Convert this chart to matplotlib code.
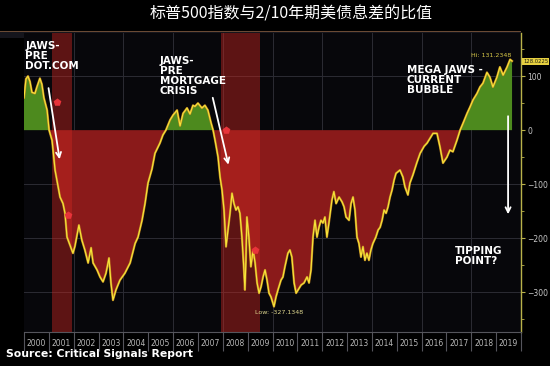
import numpy as np
import matplotlib.pyplot as plt
from matplotlib.patches import Rectangle
from matplotlib.ticker import MultipleLocator, FixedLocator, NullFormatter

# S&P 500 / 2-10yr spread ratio
years = [2000.00, 2000.08, 2000.16, 2000.24, 2000.32, 2000.44, 2000.52, 2000.64, 2000.72, 2000.80,
         2000.93, 2001.01, 2001.13, 2001.25, 2001.45, 2001.57, 2001.65, 2001.73, 2001.85, 2001.97,
         2002.05, 2002.21, 2002.33, 2002.45, 2002.58, 2002.70, 2002.78, 2002.94, 2003.06, 2003.18,
         2003.30, 2003.42, 2003.50, 2003.58, 2003.70, 2003.86, 2004.06, 2004.27, 2004.47, 2004.59,
         2004.75, 2004.87, 2004.99, 2005.15, 2005.27, 2005.47, 2005.59, 2005.71, 2005.88, 2006.00,
         2006.16, 2006.28, 2006.40, 2006.56, 2006.68, 2006.80, 2006.88, 2007.00, 2007.16, 2007.28,
         2007.40, 2007.53, 2007.61, 2007.69, 2007.81, 2007.89, 2007.97, 2008.05, 2008.13, 2008.21,
         2008.29, 2008.37, 2008.45, 2008.53, 2008.61, 2008.69, 2008.77, 2008.85, 2008.89, 2008.93,
         2008.97, 2009.05, 2009.13, 2009.22, 2009.30, 2009.38, 2009.46, 2009.54, 2009.62, 2009.70,
         2009.78, 2009.86, 2009.94, 2010.06, 2010.14, 2010.22, 2010.34, 2010.42, 2010.50, 2010.62,
         2010.70, 2010.78, 2010.87, 2010.95, 2011.03, 2011.15, 2011.27, 2011.39, 2011.47, 2011.55,
         2011.63, 2011.71, 2011.79, 2011.87, 2011.95, 2012.03, 2012.11, 2012.19, 2012.27, 2012.39,
         2012.47, 2012.56, 2012.68, 2012.80, 2012.88, 2012.96, 2013.08, 2013.16, 2013.24, 2013.32,
         2013.40, 2013.48, 2013.56, 2013.64, 2013.72, 2013.80, 2013.88, 2013.96, 2014.04, 2014.16,
         2014.25, 2014.33, 2014.41, 2014.49, 2014.57, 2014.65, 2014.73, 2014.81, 2014.89, 2014.97,
         2015.13, 2015.25, 2015.33, 2015.45, 2015.53, 2015.65, 2015.81, 2015.94, 2016.10, 2016.22,
         2016.46, 2016.62, 2016.74, 2016.86, 2017.02, 2017.14, 2017.26, 2017.42, 2017.55, 2017.67,
         2017.83, 2017.95, 2018.07, 2018.23, 2018.35, 2018.47, 2018.63, 2018.75, 2018.87, 2019.03,
         2019.15, 2019.28, 2019.44, 2019.56, 2019.64]
ratio = [60, 95, 100, 90, 70, 68, 80, 96, 85, 60,
         37, 0, -19, -74, -124, -136, -154, -198, -213, -228,
         -215, -176, -204, -222, -246, -218, -246, -259, -272, -281,
         -265, -237, -283, -315, -296, -278, -265, -246, -210, -198,
         -167, -136, -98, -72, -43, -24, -9, 0, 19, 28,
         37, 8, 31, 41, 30, 46, 44, 50, 41, 46,
         37, 13, 0, -19, -50, -87, -111, -148, -216, -185,
         -154, -117, -136, -148, -142, -154, -198, -259, -296, -241,
         -161, -198, -253, -222, -246, -283, -302, -290, -272, -259,
         -278, -302, -309, -327, -309, -296, -278, -272, -253, -228,
         -222, -235, -283, -302, -296, -287, -283, -272, -283, -259,
         -198, -167, -198, -180, -167, -172, -161, -198, -172, -130,
         -114, -136, -124, -133, -142, -161, -167, -136, -124, -148,
         -198, -210, -235, -216, -241, -228, -241, -222, -210, -198,
         -185, -180, -167, -148, -154, -142, -124, -111, -93, -80,
         -74, -87, -105, -120, -98, -83, -60, -43, -30, -24,
         -6, -6, -31, -61, -50, -37, -40, -19, 0, 13,
         31, 43, 56, 68, 80, 87, 107, 98, 80, 98,
         117, 102, 117, 131, 128]

recessions = [(2001.13, 2001.93), (2007.92, 2009.50)]
event_years = [2001.33, 2001.77, 2008.13, 2009.30]
event_values = [52, -157, 0, -222]
year_labels = [str(y) for y in range(2000, 2020)]
last_value = "128.0225"
hi_label = "Hi: 131.2348"
low_label = "Low: -327.1348"

x = np.array(years)
y = np.array(ratio)

fig = plt.figure(figsize=(5.5, 3.66), dpi=100, facecolor='black')
ax = fig.add_axes([24 / 550, 34 / 366, 497 / 550, 299 / 366])
ax.set_facecolor('#07070b')

# fills above / below zero
ax.fill_between(x, y, 0, where=y >= 0, interpolate=True, color='#4d8a1e', lw=0, zorder=2)
ax.fill_between(x, y, 0, where=y <= 0, interpolate=True, color='#8a1a1a', lw=0, zorder=2)

# recession shading
for a, b in recessions:
    ax.axvspan(a, b, color='#c8261f', alpha=0.45, lw=0, zorder=3)

# the line (orange halo + yellow core)
ax.plot(x, y, color='#c98a22', lw=1.6, alpha=0.9, zorder=4)
ax.plot(x, y, color='#f7e63a', lw=0.8, zorder=5)

# event markers
ax.scatter(event_years, event_values, marker='p', s=34, color='#e8343a', zorder=6, lw=0)

# gridlines
for g in range(2002, 2020, 2):
    ax.axvline(g, color='#2c2c34', lw=0.7, zorder=1)
for g in [100, -100, -200, -300]:
    ax.axhline(g, color='#2c2c34', lw=0.7, zorder=1)

ax.set_xlim(2000, 2020)
ax.set_ylim(-374, 180)

# x axis: separators at year boundaries, labels at mid-year
ax.xaxis.set_major_locator(MultipleLocator(1))
ax.xaxis.set_major_formatter(NullFormatter())
ax.xaxis.set_minor_locator(FixedLocator([int(s) + 0.5 for s in year_labels]))
ax.set_xticklabels(year_labels, minor=True)
ax.tick_params(axis='x', which='major', direction='out', length=14, width=0.8, color='#55555c')
ax.tick_params(axis='x', which='minor', length=0, labelsize=5.5, labelcolor='#b8b8b8', pad=5)

# right y axis
ax.yaxis.tick_right()
ax.yaxis.set_major_locator(MultipleLocator(100))
ax.yaxis.set_minor_locator(MultipleLocator(50))
ax.tick_params(axis='y', which='major', direction='out', length=3, width=0.8, color='#b9b24a',
               labelsize=5.5, labelcolor='#c8c8c8', pad=1.5)
ax.tick_params(axis='y', which='minor', direction='out', length=2, width=0.6, color='#b9b24a')

for side in ['top', 'left']:
    ax.spines[side].set_visible(False)
ax.spines['right'].set_color('#b9b24a')
ax.spines['right'].set_linewidth(1.0)
ax.spines['bottom'].set_color('#55555c')

# annotations
txt = dict(color='white', fontsize=7.5, fontweight='bold', va='top', ha='left',
           linespacing=1.0, zorder=8)
ax.text(2000.05, 166, "JAWS-\nPRE\nDOT.COM", **txt)
ax.text(2005.47, 137, "JAWS-\nPRE\nMORTGAGE\nCRISIS", **txt)
ax.text(2015.41, 120, "MEGA JAWS -\nCURRENT\nBUBBLE", **txt)
ax.text(2017.34, -215, "TIPPING\nPOINT?", **txt)

arrow = dict(arrowstyle='->', color='white', lw=1.3, mutation_scale=9)
ax.annotate('', xy=(2001.45, -59), xytext=(2000.97, 83), arrowprops=arrow, zorder=8)
ax.annotate('', xy=(2008.25, -69), xytext=(2007.57, 65), arrowprops=arrow, zorder=8)
ax.annotate('', xy=(2019.48, -161), xytext=(2019.48, 31), arrowprops=arrow, zorder=8)

ax.text(2019.6, 139, hi_label, color='#d8c848', fontsize=4.5, ha='right', va='center', zorder=8)
ax.text(2009.3, -337, low_label, color='#e0d890', fontsize=4.5, ha='left', va='center', zorder=8)
ax.text(1.004, ratio[-1], last_value, transform=ax.get_yaxis_transform(), color='#202010',
        fontsize=3.8, ha='left', va='center', zorder=8,
        bbox=dict(boxstyle='square,pad=0.2', fc='#e6d040', ec='none'))

# toolbar strip on top
fig.add_artist(Rectangle((0, 1 - 38 / 366), 521 / 550, 6 / 366, transform=fig.transFigure,
                         fc='#15151c', ec='none', zorder=0))
fig.add_artist(Rectangle((0, 1 - 32 / 366), 521 / 550, 1.2 / 366, transform=fig.transFigure,
                         fc='#6a4a34', ec='none', zorder=0))

fig.text(0.53, 0.963, "标普500指数与2/10年期美债息差的比值", color='white', fontsize=11.5,
         ha='center', va='center', family=['Noto Sans CJK SC', 'DejaVu Sans'])
fig.text(0.01, 1 - 354 / 366, "Source: Critical Signals Report", color='white', fontsize=7.8,
         fontweight='bold', ha='left', va='center', family=['DejaVu Sans'])

fig.savefig('out.png', dpi=100, facecolor='black')
